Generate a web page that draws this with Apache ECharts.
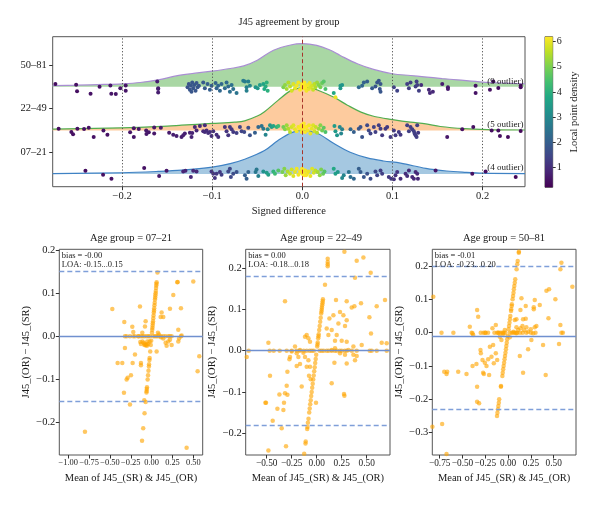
<!DOCTYPE html>
<html><head><meta charset="utf-8">
<script src="https://cdn.jsdelivr.net/npm/echarts@6/dist/echarts.min.js"></script>
<style>html,body{margin:0;padding:0;background:#fff}#c{width:600px;height:506px}</style>
</head><body><div id="c"></div>
<script>
// ---------------- DATA ----------------
const groups = ['07–21', '22–49', '50–81'];
const outlierCounts = [4, 5, 9];
const ridgeXTicks = [-0.2, -0.1, 0, 0.1, 0.2];
const densityTicks = [1, 2, 3, 4, 5, 6];

// ridge density profiles [x, relative height]
const ridge0721 = [[-0.277,0.01],[-0.2,0.03],[-0.16,0.06],[-0.134,0.09],[-0.1,0.16],[-0.08,0.24],[-0.064,0.34],[-0.042,0.54],[-0.027,0.77],[-0.012,0.95],[0,1.0],[0.016,0.94],[0.035,0.70],[0.053,0.50],[0.072,0.37],[0.09,0.30],[0.109,0.25],[0.137,0.13],[0.16,0.07],[0.18,0.04],[0.2,0.02],[0.247,0.01]];
const ridge2249 = [[-0.277,0.03],[-0.2,0.06],[-0.15,0.10],[-0.134,0.12],[-0.1,0.16],[-0.075,0.19],[-0.064,0.22],[-0.05,0.33],[-0.042,0.43],[-0.027,0.69],[-0.012,0.92],[0.005,0.99],[0.02,0.90],[0.035,0.76],[0.05,0.58],[0.065,0.42],[0.08,0.32],[0.1,0.25],[0.12,0.19],[0.137,0.15],[0.153,0.09],[0.18,0.04],[0.205,0.02],[0.247,0.01]];
const ridge5081 = [[-0.277,0.03],[-0.25,0.04],[-0.22,0.055],[-0.2,0.07],[-0.18,0.10],[-0.16,0.16],[-0.14,0.25],[-0.124,0.30],[-0.1,0.36],[-0.08,0.42],[-0.065,0.48],[-0.05,0.61],[-0.032,0.84],[-0.013,0.96],[0,0.99],[0.016,0.95],[0.03,0.85],[0.042,0.72],[0.061,0.53],[0.079,0.40],[0.1,0.30],[0.12,0.26],[0.135,0.23],[0.155,0.19],[0.172,0.16],[0.2,0.11],[0.22,0.09],[0.247,0.07]];

// jittered points [signed difference, vertical jitter, local density]
const pts0721 = [[-0.2407,0.077,0.4],[-0.2211,-0.015,0.45],[-0.2118,-0.107,0.45],[-0.1755,0.138,0.5],[-0.1589,-0.046,0.6],[-0.1507,0.077,0.6],
[-0.1322,0.06,0.8],[-0.1297,0.077,0.8],[-0.1237,-0.07,0.85],[-0.1211,0.077,0.9],[-0.1174,0.06,0.9],[-0.1008,0.06,1.1],[-0.0989,0.008,1.1],[-0.0971,-0.09,1.1],[-0.0952,0.008,1.2],[-0.0915,0.046,1.2],[-0.0897,-0.015,1.3],[-0.0822,0.06,1.5],[-0.0804,0.12,1.5],[-0.0793,-0.07,1.5],[-0.0767,0.008,1.6],[-0.073,0.046,1.7],[-0.0637,-0.03,2.0],[-0.0619,-0.107,2.0],[-0.06,0.046,2.1],[-0.0519,0.046,2.6],[-0.0508,0.107,2.6],[-0.0489,-0.046,2.8],[-0.0433,0.06,3.2],[-0.0396,0.03,3.5],[-0.0378,-0.015,3.6],[-0.0322,0.06,4.1],[-0.0304,0.008,4.3],[-0.0267,0.084,4.6],[-0.0222,0.046,5.0],[-0.02,0.12,5.1],[-0.0185,-0.03,5.3],[-0.0163,0.06,5.5],[-0.0137,0.008,5.7],[-0.0119,0.107,5.8],[-0.01,-0.046,5.9],[-0.0082,0.046,6.0],[-0.0063,0.12,6.1],[-0.0044,-0.015,6.1],[-0.0026,0.06,6.2],[0.0,0.008,6.2],[0.0022,0.084,6.2],[0.0041,-0.03,6.2],
[-0.0003,0.12,6.2],[0.0008,0.046,6.2],[0.0022,-0.03,6.2],[0.0034,0.084,6.1],[0.0052,0.008,6.1],[0.0071,0.06,6.0],[0.0089,-0.046,6.0],[0.0108,0.12,5.9],[0.0126,0.03,5.8],[0.0145,0.084,5.6],[0.0171,0.046,5.4],[0.0193,-0.03,5.2],[0.0208,0.107,5.0],[0.023,0.008,4.8],[0.0245,0.06,4.6],[0.0348,0.12,3.8],[0.0367,0.008,3.6],[0.0393,0.046,3.4],[0.0441,-0.09,3.0],[0.0459,-0.03,2.9],[0.0515,0.046,2.5],[0.0534,-0.07,2.4],[0.0571,-0.107,2.2],[0.0626,0.12,2.0],[0.0645,0.046,1.9],[0.0682,-0.07,1.8],[0.0719,0.008,1.7],[0.0756,-0.107,1.6],[0.0811,0.06,1.5],[0.083,-0.03,1.4],[0.0867,0.084,1.3],[0.0885,0.008,1.3],[0.0959,-0.07,1.2],[0.0985,-0.107,1.2],[0.1015,-0.12,1.1],[0.1033,-0.03,1.1],[0.1052,0.046,1.1],[0.1089,-0.107,1.0],[0.1145,0.008,1.0],[0.1163,-0.046,1.0],[0.1182,0.084,0.95],[0.1219,-0.07,0.9],[0.1237,-0.107,0.9],[0.1256,0.046,0.9],[0.1274,0.008,0.9],[0.1282,-0.107,0.85],
[0.1478,0.084,0.6],[0.1885,0.008,0.45],[0.2033,0.06,0.4],[0.2367,-0.07,0.3]];

const pts2249 = [[-0.2704,0.04,0.4],[-0.2563,-0.035,0.45],[-0.2544,-0.09,0.45],[-0.2496,0.04,0.45],[-0.2422,0.035,0.5],[-0.237,0.06,0.5],[-0.2315,-0.15,0.5],[-0.2207,0.0,0.5],[-0.2163,-0.10,0.5],[-0.1911,-0.04,0.55],[-0.187,0.05,0.55],[-0.187,-0.15,0.55],[-0.1815,0.035,0.55],[-0.1733,0.0,0.6],[-0.173,-0.08,0.6],[-0.1704,-0.04,0.6],[-0.1644,0.065,0.6],[-0.1644,-0.07,0.6],[-0.157,0.06,0.65],[-0.1478,-0.05,0.65],[-0.1433,-0.10,0.7],[-0.1396,-0.13,0.7],[-0.1341,-0.15,0.7],
[-0.1322,-0.11,0.75],[-0.1304,-0.07,0.75],[-0.1248,-0.05,0.8],[-0.123,-0.15,0.8],[-0.1222,-0.06,0.8],[-0.1193,0.08,0.85],[-0.1174,0.0,0.85],[-0.1137,0.10,0.9],[-0.11,-0.02,0.9],[-0.1082,0.12,0.95],[-0.1082,-0.035,0.95],[-0.1063,0.0,0.95],[-0.1045,-0.06,1.0],[-0.1026,-0.035,1.0],[-0.1008,-0.13,1.0],[-0.0989,-0.02,1.0],[-0.0952,-0.10,1.0],[-0.0933,-0.15,1.0],[-0.086,0.08,1.1],[-0.0841,-0.02,1.1],[-0.0822,-0.11,1.1],[-0.0804,0.08,1.2],[-0.0785,0.027,1.2],[-0.0767,-0.035,1.2],[-0.073,-0.06,1.3],[-0.0693,0.08,1.4],[-0.0674,-0.02,1.4],[-0.0645,-0.035,1.5],[-0.06,0.06,1.6],[-0.0582,-0.11,1.7],[-0.0526,-0.05,2.0],[-0.0489,0.08,2.2],[-0.0452,0.10,2.5],[-0.0433,0.04,2.6],[-0.0408,-0.10,2.9],[-0.0385,0.027,3.1],[-0.0359,0.12,3.3],[-0.0341,0.08,3.5],[-0.0322,0.10,3.7],[-0.0285,0.08,4.1],[-0.0267,0.10,4.3],[-0.0211,0.08,4.9],[-0.0193,0.027,5.1],[-0.0174,0.12,5.3],[-0.0156,0.04,5.5],[-0.0137,-0.035,5.6],[-0.0119,0.08,5.8],[-0.01,0.12,5.9],[-0.0082,0.027,6.0],[-0.0063,-0.02,6.1],[-0.0044,0.08,6.1],[-0.0026,0.04,6.2],[-0.0007,-0.035,6.2],[0.0011,0.10,6.2],[0.003,0.06,6.2],
[-0.0011,0.12,6.2],[0.0,0.027,6.2],[0.0015,0.16,6.2],[0.003,-0.035,6.2],[0.0045,0.08,6.2],[0.006,0.0,6.1],[0.0074,0.12,6.1],[0.0089,-0.07,6.0],[0.0104,0.04,6.0],[0.0119,0.12,5.9],[0.0134,-0.02,5.8],[0.0148,0.08,5.7],[0.0163,-0.05,5.5],[0.0182,0.04,5.3],[0.02,0.12,5.1],[0.0219,0.0,4.9],[0.0237,0.06,4.7],[0.0256,-0.035,4.5],[0.0356,0.10,3.5],[0.0367,-0.02,3.4],[0.0385,-0.11,3.3],[0.0415,0.08,3.0],[0.043,-0.07,2.9],[0.0441,0.027,2.8],[0.0534,0.027,2.2],[0.0571,-0.035,2.0],[0.0626,0.04,1.8],[0.0645,0.08,1.7],[0.0663,-0.15,1.7],[0.0719,0.12,1.5],[0.0737,0.0,1.5],[0.0756,-0.07,1.4],[0.0793,0.08,1.4],[0.0811,-0.035,1.3],[0.0848,0.12,1.3],[0.0867,0.04,1.3],[0.0885,-0.11,1.2],[0.0922,0.04,1.2],[0.0941,0.08,1.2],[0.0978,-0.15,1.2],[0.1015,0.0,1.2],[0.1033,-0.11,1.2],[0.107,-0.035,1.2],[0.1089,-0.10,1.2],[0.1163,0.12,1.3],[0.1182,-0.02,1.3],[0.12,0.08,1.3],[0.1219,0.027,1.3],[0.1237,-0.02,1.3],[0.1245,-0.07,1.3],[0.1256,-0.11,1.3],[0.1267,-0.15,1.3],[0.1274,0.12,1.3],[0.1285,-0.05,1.2],
[0.1607,-0.15,0.6],[0.1774,0.027,0.5],[0.1896,0.08,0.45],[0.21,0.0,0.4],[0.2174,0.0,0.4],[0.2192,-0.13,0.4],[0.2281,-0.15,0.35],[0.2422,-0.01,0.3]];

const pts5081 = [[-0.274,0.065,0.4],[-0.251,0.05,0.45],[-0.250,-0.10,0.45],[-0.235,-0.16,0.5],[-0.225,0.0,0.5],[-0.213,0.03,0.55],[-0.212,-0.16,0.55],[-0.207,-0.165,0.55],[-0.202,-0.03,0.55],[-0.196,0.03,0.55],[-0.196,-0.09,0.55],[-0.161,0.12,0.7],[-0.160,-0.03,0.7],[-0.160,-0.05,0.7],[-0.160,-0.13,0.7],
[-0.1274,-0.01,1.7],[-0.126,0.065,1.7],[-0.1248,-0.065,1.8],[-0.1237,0.027,1.8],[-0.1222,0.10,1.8],[-0.1211,-0.035,1.8],[-0.12,0.04,1.8],[-0.1185,-0.09,1.8],[-0.1174,0.09,1.8],[-0.1163,-0.01,1.8],[-0.1148,0.027,1.8],[-0.123,-0.11,1.8],
[-0.11,0.10,1.9],[-0.1082,-0.035,1.9],[-0.1052,0.065,2.0],[-0.1026,-0.065,2.0],[-0.1008,0.027,2.0],[-0.0963,0.09,2.1],[-0.0952,-0.035,2.1],[-0.0934,0.027,2.2],[-0.0915,-0.09,2.2],[-0.0897,0.065,2.2],[-0.086,-0.035,2.3],[-0.0841,0.10,2.3],[-0.0822,0.01,2.3],[-0.0804,-0.11,2.4],[-0.0785,0.04,2.4],[-0.0767,-0.05,2.4],[-0.073,-0.14,2.5],
[-0.0656,0.14,2.7],[-0.0637,0.12,2.7],[-0.0619,-0.01,2.8],[-0.06,0.12,2.8],[-0.0582,0.027,2.9],[-0.0619,-0.09,2.8],[-0.0519,-0.01,3.3],[-0.0496,-0.035,3.4],[-0.0471,0.04,3.5],[-0.0433,0.065,3.7],[-0.0422,-0.05,3.8],[-0.0408,0.01,3.9],[-0.0385,-0.09,4.0],[-0.0396,0.10,4.0],
[-0.0211,-0.01,5.0],[-0.0193,0.04,5.2],[-0.0174,-0.05,5.4],[-0.0156,0.10,5.5],[-0.0137,0.01,5.6],[-0.0119,-0.09,5.8],[-0.01,0.065,5.9],[-0.0082,-0.035,6.0],[-0.0063,0.027,6.1],[-0.0044,0.10,6.1],[-0.0026,-0.065,6.2],[-0.0007,0.01,6.2],[0.0011,0.065,6.2],[0.003,-0.035,6.2],[0.0048,0.027,6.2],
[-0.0003,0.065,6.2],[0.0008,-0.035,6.2],[0.0022,0.10,6.2],[0.0034,0.01,6.2],[0.0045,-0.09,6.1],[0.006,0.04,6.1],[0.0071,-0.05,6.0],[0.0082,0.09,6.0],[0.0089,-0.01,5.9],[0.0108,0.027,5.8],[0.0119,-0.065,5.7],[0.0134,0.065,5.6],[0.0145,-0.01,5.5],[0.0163,0.10,5.3],[0.0182,0.04,5.1],[0.02,-0.01,5.0],[0.0219,0.09,4.8],[0.0237,0.12,4.6],[0.0256,-0.05,4.5],[0.0367,-0.24,6.0],[0.0348,-0.14,3.8],
[0.0422,0.027,3.4],[0.0422,-0.035,3.4],[0.0441,0.04,3.3],[0.0626,-0.01,2.3],[0.0663,0.027,2.2],[0.0682,0.10,2.1],[0.0719,0.12,2.0],[0.0774,-0.035,1.9],[0.0811,0.01,1.8],[0.083,0.10,1.8],[0.0848,0.14,1.8],[0.0867,0.065,1.8],[0.0859,-0.05,1.8],[0.0867,-0.11,1.8],
[0.1015,-0.01,1.4],[0.1052,-0.09,1.4],[0.1163,0.065,1.3],[0.1182,-0.035,1.3],[0.12,0.10,1.3],[0.1256,0.01,1.3],[0.1274,0.04,1.3],[0.1293,-0.09,1.3],[0.1267,0.12,1.3],
[0.1318,0.04,1.0],[0.1404,-0.065,0.9],[0.1415,-0.14,0.9],[0.1448,-0.11,0.9],[0.1552,0.065,0.7],[0.1615,-0.01,0.65],[0.1615,-0.05,0.65],[0.1922,0.027,0.5],[0.1922,-0.14,0.5],[0.2081,-0.065,0.45],[0.2118,0.12,0.45],[0.2174,-0.027,0.4],[0.2422,0.027,0.35],[0.2422,-0.01,0.35]];

// Bland-Altman panels: [mean, difference]
const ba0721 = [[0.070,0.148],[0.060,0.125],[0.058,0.122],[0.056,0.118],[0.053,0.112],[0.050,0.105],[0.048,0.100],[0.045,0.095],[0.043,0.090],[0.040,0.085],[0.037,0.078],[0.034,0.072],[0.031,0.065],[0.029,0.060],[0.026,0.055],[0.023,0.048],[0.020,0.042],[0.017,0.035],[0.014,0.030],[0.012,0.025],[0.010,0.020],[0.007,0.015],[0.004,0.008],[-0.005,-0.010],[-0.010,-0.020],[-0.017,-0.035],[-0.024,-0.050],[-0.026,-0.055],[-0.031,-0.065],[-0.033,-0.070],[-0.038,-0.080],[-0.043,-0.090],[-0.048,-0.100],[-0.056,-0.118],[-0.058,-0.122],[-0.060,-0.127],[-0.062,-0.130],[-0.072,-0.152],[-0.085,-0.178],[-0.101,-0.213],[-0.115,-0.242],
[-0.32,0],[-0.30,0],[-0.26,0],[-0.22,0],[-0.20,0],[-0.16,0],[-0.128,0],[-0.108,0],[-0.088,0],[-0.06,0],[-0.04,0],[-0.02,0],[0.02,0],[0.04,0],[0.06,0],[0.08,0],[0.112,0],[0.14,0],[0.168,0],[0.20,0],[0.22,0],[0.24,0],[0.352,0],[0.36,0.002],
[-0.472,0.063],[-0.14,0.069],[-0.328,0.033],[-0.232,0.022],[-0.22,0.01],[-0.072,0.035],[-0.08,0.023],[-0.112,0.008],[-0.136,-0.013],[-0.096,-0.015],[-0.08,-0.018],[-0.06,-0.019],[-0.04,-0.018],[-0.052,-0.012],[-0.11,-0.012],[-0.128,-0.018],[-0.088,-0.02],[-0.072,-0.021],[-0.056,-0.022],[-0.024,-0.012],
[0.108,0.045],[0.14,0.045],[0.12,0.055],[0.22,0.064],[0.308,0.125],[0.312,0.126],[0.26,0.096],[0.352,0.065],[0.32,0.015],[0.32,-0.012],[0.22,-0.008],[0.20,-0.012],[0.168,-0.015],[0.14,-0.005],[0.112,-0.002],[0.088,0.004],[0.06,-0.035],[0.076,0.008],[0.50,0.127],[0.572,-0.046],[0.552,-0.081],[0.42,-0.258],[-0.80,-0.221],[-0.408,-0.062],[-0.352,-0.062],[-0.32,-0.027],[-0.228,-0.062],[-0.20,-0.042],[-0.288,-0.096],[-0.30,-0.10],[-0.248,-0.09],[-0.332,-0.131],[-0.26,-0.158],[-0.128,-0.062],[-0.128,-0.067],[-0.088,-0.148],[-0.156,0.0],[0.24,-0.02],[0.18,-0.022],[0.33,-0.005]];

const ba2249 = [[0.062,0.125],[0.060,0.12],[0.058,0.115],[0.055,0.11],[0.052,0.105],[0.050,0.10],[0.048,0.095],[0.045,0.09],[0.040,0.08],[0.035,0.07],[0.030,0.06],[0.025,0.05],[0.020,0.04],[0.018,0.035],[0.015,0.03],[0.010,0.02],[0.008,0.015],[0.005,0.01],[-0.005,-0.01],[-0.010,-0.02],[-0.015,-0.03],[-0.020,-0.04],[-0.025,-0.05],[-0.030,-0.06],[-0.035,-0.07],[-0.040,-0.08],[-0.045,-0.09],[-0.050,-0.10],[-0.055,-0.11],[-0.060,-0.12],[-0.065,-0.13],[-0.070,-0.14],[-0.075,-0.15],[-0.082,-0.165],[-0.088,-0.175],[-0.092,-0.185],[-0.095,-0.19],[-0.110,-0.22],[-0.112,-0.225],[-0.125,-0.25],
[-0.68,0],[-0.47,0],[-0.43,0],[-0.37,0],[-0.30,0],[-0.25,0],[-0.20,0],[-0.17,0],[-0.13,0],[-0.10,0],[-0.07,0],[-0.05,0],[-0.03,0],[0.03,0],[0.05,0],[0.07,0],[0.10,0],[0.12,0],[0.15,0],[0.18,0],[0.20,0],[0.23,0],[0.25,0],[0.28,0],[0.30,0],[0.35,0],[0.40,0],[0.53,0],[0.60,0],[0.70,0],
[0.277,0.24],[0.11,0.223],[0.11,0.215],[0.11,0.21],[0.11,0.205],[0.467,0.226],[0.40,0.218],[0.083,0.16],[0.54,0.189],[0.383,0.177],
[-0.317,0.12],[0.193,0.123],[0.30,0.12],[0.443,0.115],[0.683,0.123],[0.60,0.108],[0.35,0.105],[0.377,0.108],[0.233,0.094],[0.127,0.078],[0.167,0.086],[0.267,0.086],[0.217,0.066],[0.30,0.074],[0.283,0.06],[0.527,0.081],[0.543,0.042],[0.10,0.054],[0.15,0.05],[0.117,0.038],[0.20,0.038],[0.183,0.024],[0.25,0.024],[0.30,0.022],[0.367,0.01],[0.45,0.014],[0.70,0.018],[0.65,0.019],
[-0.10,0.038],[-0.083,0.03],[-0.067,0.022],[-0.117,0.034],[-0.483,0.019],[-0.217,0.01],[-0.25,-0.002],[-0.267,-0.015],[-0.273,-0.021],[-0.20,-0.006],[-0.167,0.002],[-0.183,-0.015],[-0.133,-0.005],[-0.117,-0.015],[-0.083,-0.023],[-0.10,-0.039],[-0.067,-0.039],[-0.167,-0.032],[-0.20,-0.037],[-0.293,-0.051],[-0.077,-0.061],[-0.06,-0.069],[-0.15,-0.087],[-0.30,-0.085],[-0.317,-0.103],[-0.293,-0.107],[-0.373,-0.106],[-0.467,-0.061],[-0.513,-0.126],[-0.507,-0.126],[-0.327,-0.126],[-0.333,-0.144],[-0.393,-0.141],[-0.44,-0.17],[-0.35,-0.188],[-0.307,-0.232],[-0.483,-0.242],[-0.70,-0.015],[-0.007,-0.126],
[0.15,-0.079],[0.273,-0.105],[0.277,-0.109],[0.177,-0.029],[0.15,0.002],[0.183,0.006],[0.317,0.002],[0.233,-0.006],[0.283,-0.01],[0.367,-0.01],[0.383,-0.023],[0.30,-0.031],[0.40,-0.013],[0.55,0.0]];

const ba5081 = [[0.118,0.243],[0.117,0.24],[0.105,0.215],[0.100,0.205],[0.093,0.19],[0.078,0.16],[0.073,0.15],[0.068,0.14],[0.063,0.13],[0.059,0.12],[0.054,0.11],[0.049,0.10],[0.041,0.085],[0.039,0.08],[0.034,0.07],[0.032,0.065],[0.024,0.05],[0.020,0.04],[0.015,0.03],[0.010,0.02],[0.005,0.01],[-0.005,-0.01],[-0.010,-0.02],[-0.015,-0.03],[-0.020,-0.04],[-0.024,-0.05],[-0.029,-0.06],[-0.034,-0.07],[-0.039,-0.08],[-0.044,-0.09],[-0.049,-0.10],[-0.054,-0.11],[-0.059,-0.12],[-0.063,-0.13],[-0.078,-0.16],[-0.079,-0.162],[-0.098,-0.20],[-0.102,-0.21],[-0.107,-0.22],[-0.112,-0.23],[-0.117,-0.24],[-0.122,-0.25],
[-0.73,0],[-0.60,0],[-0.40,0],[-0.30,0],[-0.27,0],[-0.25,0],[-0.22,0],[-0.15,0],[-0.12,0],[-0.10,0],[-0.08,0],[-0.06,0],[-0.05,0],[-0.03,0],[0.02,0],[0.04,0],[0.06,0],[0.08,0],[0.10,0],[0.13,0],[0.16,0],[0.20,0],[0.25,0],[0.30,0],[0.60,0],
[-0.82,0.108],[-0.83,-0.282],[-0.723,-0.274],[-0.675,-0.364],[-0.70,-0.117],[-0.675,-0.124],[-0.668,-0.117],[-0.547,-0.117],[-0.456,-0.124],[-0.42,0.018],[-0.39,-0.002],[-0.383,-0.007],[-0.39,-0.10],[-0.34,0.068],[-0.328,0.048],[-0.347,-0.094],[-0.34,-0.162],[-0.34,-0.207],[-0.318,-0.212],[-0.303,-0.052],[-0.299,-0.062],[-0.281,-0.082],[-0.274,-0.12],[-0.255,-0.09],[-0.237,-0.10],[-0.266,-0.124],[-0.208,-0.127],[-0.219,-0.08],[-0.182,-0.072],[-0.20,-0.042],[-0.164,-0.037],[-0.135,-0.062],[-0.12,-0.082],[-0.157,-0.092],[-0.172,0.013],[-0.135,0.023],[-0.11,0.0],[-0.091,-0.012],[-0.073,-0.022],[-0.055,-0.004],[-0.036,0.008],[0.018,-0.014],
[0.073,0.038],[0.091,0.016],[0.11,0.008],[0.135,0.013],[0.157,0.02],[0.175,0.008],[0.20,0.016],[0.219,0.003],[0.248,0.01],[0.274,-0.002],[0.292,0.016],[0.255,-0.022],[0.135,0.068],[0.146,0.103],[0.164,0.04],[0.193,0.042],[0.091,0.04],[0.128,-0.07],[0.164,-0.12],[0.193,0.08],[0.219,-0.05],[0.292,0.098],[0.281,0.076],[0.281,0.07],[0.347,0.083],[0.31,0.02],[0.383,-0.037],[0.412,-0.127],[0.42,0.126],[0.449,0.13],[0.442,0.043],[0.518,0.10],[0.558,-0.034],[0.573,0.023],[0.573,0.19],[0.584,0.21],[0.584,0.0],[0.704,0.138],[0.09,-0.002],[0.06,0.003],[-0.248,0.0]];

const baTitles = ['Age group = 07–21', 'Age group = 22–49', 'Age group = 50–81'];
const baBias = [-0.002, 0.003, -0.015];
const baLoaLow = [-0.155, -0.18, -0.23];
const baLoaHigh = [0.151, 0.185, 0.20];
const baBiasText = ['bias = -0.00', 'bias = 0.00', 'bias = -0.01'];
const baLoaText = ['LOA: -0.15...0.15', 'LOA: -0.18...0.18', 'LOA: -0.23...0.20'];
const baXTicks = [[-1.0,-0.75,-0.5,-0.25,0,0.25,0.5],[-0.5,-0.25,0,0.25,0.5],[-0.75,-0.5,-0.25,0,0.25,0.5]];
const baYTicks = [[-0.2,-0.1,0,0.1,0.2],[-0.2,-0.1,0,0.1,0.2],[-0.3,-0.2,-0.1,0,0.1,0.2]];
const baXRange = [[-1.108,0.613],[-0.71,0.733],[-0.831,0.744]];
const baYRange = [[-0.275,0.2016],[-0.253,0.246],[-0.367,0.25]];

// ---------------- CHART ----------------
const FONT = '"Liberation Serif","DejaVu Serif",serif';
const viridis = ['#440154','#482475','#414487','#355f8d','#2a788e','#21918c','#22a884','#44bf70','#7ad151','#bddf26','#fde725'];
const cbMin = 0.2, cbMax = 6.2;
const fmt = (v, d) => (v < -1e-9 ? '\u2212' : '') + Math.abs(v).toFixed(d);
const TXT = '#1a1a1a';
const baXFont = [8.4, 9.3, 9.3];

const grids = [
  {left:52.7, top:36.7, width:472.3, height:150},
  {left:545, top:36.7, width:7.7, height:150.6},
  {left:59.3, top:249.3, width:143.4, height:205.7},
  {left:245.7, top:249.3, width:144.3, height:205.7},
  {left:432.3, top:249.3, width:143.7, height:205.7}
].map(g => Object.assign(g, {show:true, borderColor:'#555', borderWidth:1, backgroundColor:'transparent', containLabel:false}));

function valAxis(gi, min, max, ticks, dec, extra, fs) {
  return Object.assign({
    type:'value', gridIndex:gi, min, max,
    axisLine:{show:false, onZero:false}, splitLine:{show:false},
    axisTick:{show:true, length:3.5, customValues:ticks, lineStyle:{color:'#333', width:1}},
    axisLabel:{customValues:ticks, interval:0, formatter:v => fmt(v, dec), color:TXT, fontFamily:FONT, fontSize:fs || 10.5, margin:4, hideOverlap:false, showMinLabel:true, showMaxLabel:true},
    nameTextStyle:{color:TXT, fontFamily:FONT, fontSize:10.5}
  }, extra || {});
}

const xAxes = [
  valAxis(0, -0.277, 0.247, ridgeXTicks, 1, {name:'Signed difference', nameLocation:'middle', nameGap:19}),
  {type:'value', gridIndex:1, min:0, max:1, show:false, axisLine:{onZero:false}},
];
const yAxes = [
  valAxis(0, -0.29, 3.15, [0.5,1.5,2.5], 1, {axisLabel:{customValues:[0.5,1.5,2.5], interval:0, formatter:v => groups[Math.round(v - 0.5)], color:TXT, fontFamily:FONT, fontSize:10.5, margin:6, hideOverlap:false}}),
  valAxis(1, cbMin, cbMax, densityTicks, 0, {position:'right', name:'Local point density', nameLocation:'middle', nameGap:16, nameRotate:90,
     axisTick:{show:true, length:3, customValues:densityTicks, lineStyle:{color:'#333'}},
     axisLabel:{customValues:densityTicks, interval:0, formatter:v => String(v), color:TXT, fontFamily:FONT, fontSize:10, margin:4, hideOverlap:false}})
];
for (let i = 0; i < 3; i++) {
  xAxes.push(valAxis(2+i, baXRange[i][0], baXRange[i][1], baXTicks[i], 2, {name:'Mean of J45_(SR) & J45_(OR)', nameLocation:'middle', nameGap:18}, baXFont[i]));
  yAxes.push(valAxis(2+i, baYRange[i][0], baYRange[i][1], baYTicks[i], 1, {name:'J45_(OR) \u2212 J45_(SR)', nameLocation:'middle', nameGap:28, nameRotate:90}));
}

const ridgeData = [ridge0721, ridge2249, ridge5081];
const ptsData = [pts0721, pts2249, pts5081];
const ridgeFill = ['#a5c8e1', '#fdcb9e', '#a9d7a4'];
const ridgeLine = ['#3f82c4', '#52ad4f', '#a98ed3'];

const series = [];
for (let g = 0; g < 3; g++) {
  series.push({
    type:'line', xAxisIndex:0, yAxisIndex:0, smooth:0.35, symbol:'none', silent:true, z:2,
    data: ridgeData[g].map(p => [p[0], g + p[1]]),
    lineStyle:{color:ridgeLine[g], width:1.2},
    areaStyle:{color:ridgeFill[g], opacity:1, origin:g}
  });
}
series.push({
  type:'line', xAxisIndex:0, yAxisIndex:0, data:[], z:3, silent:true,
  markLine:{silent:true, symbol:'none', label:{show:false},
    data: ridgeXTicks.map(v => v === 0
      ? {xAxis:v, lineStyle:{color:'#a8342a', type:[4,2.5], width:1}}
      : {xAxis:v, lineStyle:{color:'#555', type:[1.2,2], width:1}})}
});
const ptsIdx = [];
for (let g = 0; g < 3; g++) {
  ptsIdx.push(series.length);
  series.push({
    type:'scatter', xAxisIndex:0, yAxisIndex:0, z:4, symbolSize:4, silent:true,
    data: ptsData[g].map(p => [p[0], g + p[1], p[2]]),
    itemStyle:{opacity:1}
  });
}
series.push({
  type:'custom', xAxisIndex:1, yAxisIndex:1, data:[[0, 1]], silent:true,
  renderItem:(params, api) => {
    const p0 = api.coord([0, cbMax]), p1 = api.coord([1, cbMin]);
    return {type:'rect', shape:{x:p0[0], y:p0[1], width:p1[0]-p0[0], height:p1[1]-p0[1]},
      style:{fill:new echarts.graphic.LinearGradient(0,1,0,0, viridis.map((c,i) => ({offset:i/(viridis.length-1), color:c})))}};
  }
});
const baData = [ba0721, ba2249, ba5081];
for (let i = 0; i < 3; i++) {
  series.push({
    type:'line', xAxisIndex:2+i, yAxisIndex:2+i, data:[], z:2, silent:true,
    markLine:{silent:true, symbol:'none', label:{show:false}, data:[
      {yAxis:baBias[i], lineStyle:{color:'#7090cf', type:'solid', width:1.3}},
      {yAxis:baLoaHigh[i], lineStyle:{color:'#7f9fd9', type:[5,3], width:1.3}},
      {yAxis:baLoaLow[i], lineStyle:{color:'#7f9fd9', type:[5,3], width:1.3}}
    ]}
  });
  series.push({
    type:'scatter', xAxisIndex:2+i, yAxisIndex:2+i, z:3, symbolSize:4.5, silent:true,
    data: baData[i], itemStyle:{color:'#ffa500', opacity:0.62}
  });
}

const graphic = [
  {type:'text', x:289, y:22, style:{text:'J45 agreement by group', fill:TXT, font:'10.5px ' + FONT, textAlign:'center', textVerticalAlign:'middle'}}
];
const outY = [168, 125, 81.3];
for (let g = 0; g < 3; g++) {
  graphic.push({type:'text', x:523.5, y:outY[g], z:10, style:{text:'(' + outlierCounts[g] + ' outlier)', fill:TXT, font:'9px ' + FONT, textAlign:'right', textVerticalAlign:'middle'}});
}
const baTitleX = [131, 321, 504];
for (let i = 0; i < 3; i++) {
  const g = grids[2+i];
  graphic.push({type:'text', x:baTitleX[i], y:238, style:{text:baTitles[i], fill:TXT, font:'10.5px ' + FONT, textAlign:'center', textVerticalAlign:'middle'}});
  graphic.push({type:'text', x:g.left + 2.5, y:g.top + 6, z:10, style:{text:baBiasText[i], fill:TXT, font:'8.5px ' + FONT, textAlign:'left', textVerticalAlign:'middle'}});
  graphic.push({type:'text', x:g.left + 2.5, y:g.top + 15, z:10, style:{text:baLoaText[i], fill:TXT, font:'8.5px ' + FONT, textAlign:'left', textVerticalAlign:'middle'}});
}

const chart = echarts.init(document.getElementById('c'), null, {renderer:'canvas'});
chart.setOption({
  animation:false,
  backgroundColor:'#fff',
  textStyle:{fontFamily:FONT},
  grid:grids, xAxis:xAxes, yAxis:yAxes,
  visualMap:[{type:'continuous', show:false, seriesIndex:ptsIdx, dimension:2, min:cbMin, max:cbMax, inRange:{color:viridis}}],
  series, graphic
});
</script></body></html>
